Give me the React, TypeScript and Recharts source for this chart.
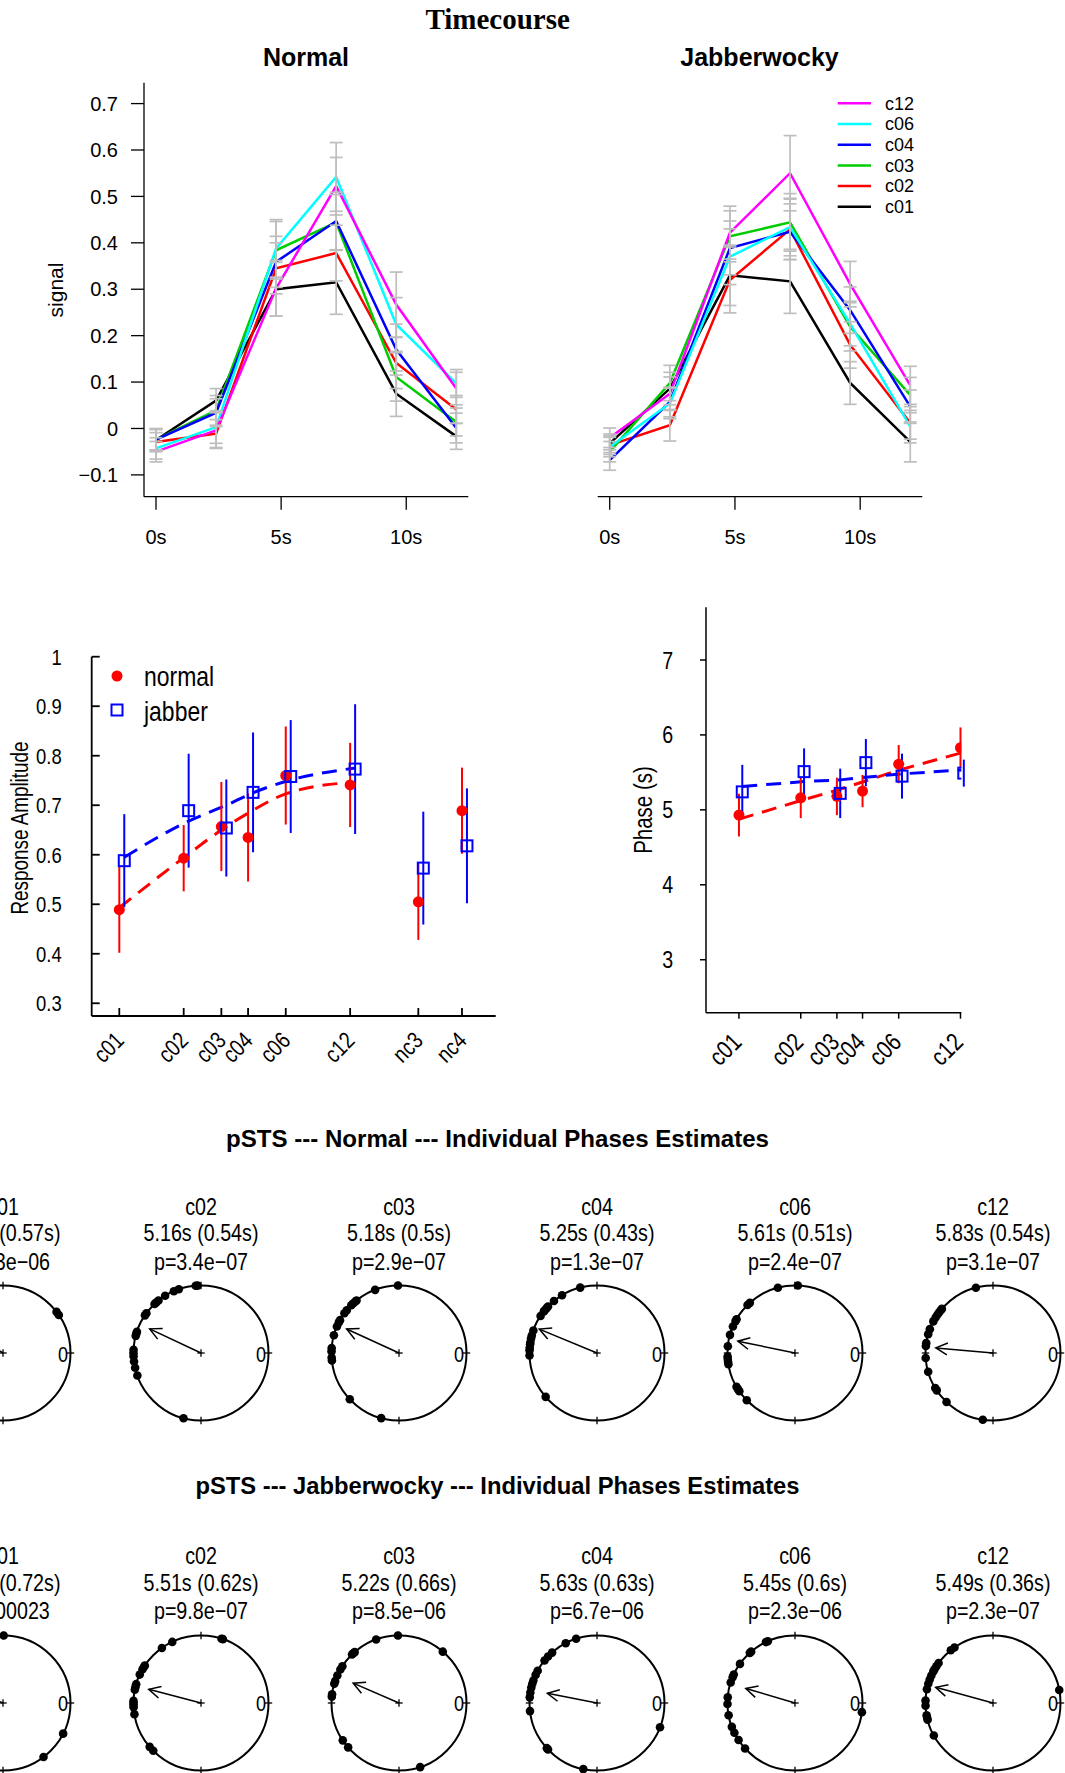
import React from 'react';
import {
  LineChart,
  Line,
  XAxis,
  YAxis,
  ErrorBar,
  ComposedChart,
  Scatter,
  ScatterChart,
  ReferenceDot,
  ReferenceLine,
} from 'recharts';

const SANS = "'Liberation Sans', Arial, Helvetica, sans-serif";
const SERIF = "'Liberation Serif', 'Times New Roman', serif";
// no narrow face installed: Liberation Sans squeezed horizontally stands in for Arial Narrow
const NARROW_X = 0.82;

// ---------- timecourse ----------
const TIMES = [0, 2.4, 4.8, 7.2, 9.6, 12];
const TIME_TICKS = [0, 5, 10];
const SIGNAL_TICKS = [-0.1, 0, 0.1, 0.2, 0.3, 0.4, 0.5, 0.6, 0.7];
const CONDITIONS = ['c01', 'c02', 'c03', 'c04', 'c06', 'c12'];
const CONDITION_COLORS = ['#000000', '#FF0000', '#00CD00', '#0000FF', '#00FFFF', '#FF00FF'];

const normalC01 = [-0.025, 0.06, 0.3, 0.315, 0.075, -0.017];
const normalC02 = [-0.029, -0.011, 0.345, 0.378, 0.141, 0.041];
const normalC03 = [-0.024, 0.039, 0.384, 0.444, 0.111, 0.014];
const normalC04 = [-0.024, 0.034, 0.359, 0.447, 0.17, 0.001];
const normalC06 = [-0.043, 0.003, 0.388, 0.542, 0.224, 0.097];
const normalC12 = [-0.05, -0.004, 0.302, 0.522, 0.267, 0.086];

const normalC01Err = [0.025, 0.026, 0.058, 0.069, 0.049, 0.028];
const normalC02Err = [0.02, 0.03, 0.055, 0.06, 0.055, 0.03];
const normalC03Err = [0.022, 0.032, 0.062, 0.06, 0.052, 0.03];
const normalC04Err = [0.022, 0.03, 0.055, 0.062, 0.055, 0.032];
const normalC06Err = [0.023, 0.035, 0.062, 0.074, 0.058, 0.03];
const normalC12Err = [0.022, 0.039, 0.06, 0.062, 0.07, 0.035];

const jabberC01 = [-0.032, 0.086, 0.33, 0.317, 0.098, -0.029];
const jabberC02 = [-0.036, 0.007, 0.32, 0.429, 0.18, 0.012];
const jabberC03 = [-0.05, 0.098, 0.414, 0.444, 0.219, 0.072];
const jabberC04 = [-0.068, 0.057, 0.389, 0.424, 0.255, 0.047];
const jabberC06 = [-0.04, 0.054, 0.37, 0.434, 0.226, 0.004];
const jabberC12 = [-0.02, 0.075, 0.422, 0.55, 0.311, 0.093];

const jabberC01Err = [0.02, 0.035, 0.065, 0.069, 0.046, 0.043];
const jabberC02Err = [0.02, 0.034, 0.071, 0.065, 0.05, 0.035];
const jabberC03Err = [0.022, 0.038, 0.055, 0.062, 0.052, 0.038];
const jabberC04Err = [0.022, 0.032, 0.058, 0.06, 0.05, 0.036];
const jabberC06Err = [0.021, 0.033, 0.06, 0.062, 0.048, 0.035];
const jabberC12Err = [0.021, 0.036, 0.057, 0.081, 0.049, 0.041];

// ---------- response amplitude ----------
const AMP_LEVELS = [1, 2, 3, 4, 6, 12, 25, 40];
const AMP_LABELS = ['c01', 'c02', 'c03', 'c04', 'c06', 'c12', 'nc3', 'nc4'];
const AMP_TICKS = [0.3, 0.4, 0.5, 0.6, 0.7, 0.8, 0.9, 1];
const ampNormal = [0.489, 0.593, 0.657, 0.635, 0.76, 0.741, 0.505, 0.689];
const ampNormalErr = [0.087, 0.067, 0.09, 0.089, 0.099, 0.085, 0.077, 0.087];
const ampJabber = [0.588, 0.689, 0.654, 0.726, 0.758, 0.773, 0.573, 0.618];
const ampJabberErr = [0.094, 0.115, 0.098, 0.121, 0.114, 0.131, 0.114, 0.116];
const ampFitNormal = [0.493, 0.594, 0.65, 0.684, 0.723, 0.746];
const ampFitJabber = [0.595, 0.668, 0.7, 0.725, 0.751, 0.775];

// ---------- phase ----------
const PHASE_LEVELS = [1, 2, 3, 4, 6, 12];
const PHASE_TICKS = [3, 4, 5, 6, 7];
const phaseNormalErr = [0.285, 0.27, 0.25, 0.215, 0.255, 0.27];
const phaseJabberErr = [0.36, 0.31, 0.33, 0.315, 0.3, 0.18];
const phaseFitNormal = [4.876, 5.124, 5.262, 5.372, 5.53, 5.757];
const phaseFitJabber = [5.311, 5.378, 5.4, 5.436, 5.48, 5.534];

// ---------- individual phases ----------
const PERIOD = 12;
const normalMeans = [4.93, 5.16, 5.18, 5.25, 5.61, 5.83];
const normalSDs = [0.57, 0.54, 0.5, 0.43, 0.51, 0.54];
const normalP = ['1.3e-06', '3.4e-07', '2.9e-07', '1.3e-07', '2.4e-07', '3.1e-07'];
const normalRho = [0.8, 0.84, 0.853, 0.926, 0.865, 0.85];
const jabberMeans = [5.24, 5.51, 5.22, 5.63, 5.45, 5.49];
const jabberSDs = [0.72, 0.62, 0.66, 0.63, 0.6, 0.36];
const jabberP = ['0.00023', '9.8e-07', '8.5e-06', '6.7e-06', '2.3e-06', '2.3e-07'];
const jabberRho = [0.7, 0.8, 0.74, 0.75, 0.76, 0.88];

const normalPhasesC01 = [1.14, 1.25, 3.6, 4.1, 4.4, 4.7, 4.9, 5.1, 5.3, 5.6, 5.9, 6.3, 6.8, 7.4];
const normalPhasesC02 = [3.1, 3.15, 3.64, 3.79, 4.07, 4.3, 4.39, 4.45, 4.8, 4.87, 5.39, 5.45, 5.51, 5.91, 6.0, 6.09, 6.24, 6.42, 6.65, 8.5];
const normalPhasesC03 = [3.03, 3.69, 4.3, 4.35, 4.43, 4.5, 4.69, 4.8, 5.03, 5.1, 5.23, 5.49, 5.86, 5.95, 6.13, 6.21, 7.44, 8.49];
const normalPhasesC04 = [3.48, 4.04, 4.32, 4.55, 4.61, 4.68, 4.73, 4.89, 5.35, 5.5, 5.59, 5.7, 5.75, 5.85, 5.92, 6.07, 7.35];
const normalPhasesC06 = [2.92, 3.49, 4.4, 4.49, 5.0, 5.06, 5.23, 5.48, 5.81, 6.1, 6.17, 6.25, 6.32, 7.0, 7.08, 7.15, 7.48];
const normalPhasesC12 = [3.49, 4.64, 4.7, 4.77, 4.85, 4.94, 5.07, 5.31, 5.46, 5.72, 5.8, 6.14, 6.54, 7.04, 7.12, 7.55, 8.71];

const jabberPhasesC01 = [2.98, 3.9, 4.4, 4.8, 5.1, 5.4, 5.7, 6.0, 6.4, 6.9, 7.6, 10.23, 11.1];
const jabberPhasesC02 = [2.37, 2.41, 3.84, 4.18, 4.88, 4.92, 5.0, 5.17, 5.46, 5.55, 5.62, 5.94, 6.0, 6.06, 6.12, 6.32, 7.35, 7.5];
const jabberPhasesC03 = [1.65, 3.03, 3.66, 4.37, 4.42, 4.47, 4.9, 5.01, 5.2, 5.37, 5.45, 5.75, 5.82, 7.12, 7.37, 9.61];
const jabberPhasesC04 = [3.6, 3.92, 4.39, 4.55, 4.7, 5.05, 5.18, 5.35, 5.45, 5.56, 5.7, 5.84, 6.23, 7.4, 7.45, 8.61, 11.3];
const jabberPhasesC06 = [3.79, 3.85, 4.35, 4.4, 4.82, 5.17, 5.25, 5.41, 5.84, 6.03, 6.35, 6.69, 6.87, 7.11, 7.41, 11.74];
const jabberPhasesC12 = [0.37, 4.16, 4.29, 4.79, 4.9, 5.0, 5.07, 5.2, 5.32, 5.45, 5.61, 5.93, 6.08, 6.35, 6.42, 6.48, 6.96];

// ---------- layout ----------
const JABBER_SHIFT_AMP = 1.055;
const JABBER_SHIFT_PHASE = 1.038;
const CIRCLE_X0 = 2.75;
const CIRCLE_STEP = 198;
const ROW1_Y = 1353.3;
const ROW2_Y = 1702.5;
const R_PX = 67.5;
const BOX = 200;
const D = BOX / 2 / R_PX;
const TICK = 3.7 / R_PX;
const ARROW_LEN = 13;
const ARROW_SPREAD = (27 * Math.PI) / 180;

const minus = (s: string) => s.replace(/-/g, '\u2212');
const fmtSignal = (v: number) => (v === 0 ? '0' : minus(v.toFixed(1)));

function timecourseRows(values: number[][], errors: number[][]) {
  return TIMES.map((t, i) => {
    const row: Record<string, number> = { t };
    CONDITIONS.forEach((c, k) => {
      row[c] = values[k][i];
      row[c + '_err'] = errors[k][i];
    });
    return row;
  });
}

const normalRows = timecourseRows(
  [normalC01, normalC02, normalC03, normalC04, normalC06, normalC12],
  [normalC01Err, normalC02Err, normalC03Err, normalC04Err, normalC06Err, normalC12Err]
);
const jabberRows = timecourseRows(
  [jabberC01, jabberC02, jabberC03, jabberC04, jabberC06, jabberC12],
  [jabberC01Err, jabberC02Err, jabberC03Err, jabberC04Err, jabberC06Err, jabberC12Err]
);

function Txt({ x, y, size, family = SANS, weight, rotate = 0, sx = 1, children }: any) {
  return (
    <div
      style={{
        position: 'absolute',
        left: x,
        top: y,
        transform: `translate(-50%, -50%) rotate(${rotate}deg) scaleX(${sx})`,
        fontSize: size,
        fontFamily: family,
        fontWeight: weight || 'normal',
        whiteSpace: 'nowrap',
        lineHeight: 1,
        color: '#000',
      }}
    >
      {children}
    </div>
  );
}

// svg text in the squeezed face
function NText({ x, y, size, anchor = 'start', rotate = 0, dy, children }: any) {
  return (
    <text
      transform={`translate(${x},${y}) rotate(${rotate}) scale(${NARROW_X},1)`}
      textAnchor={anchor}
      fontSize={size}
      fontFamily={SANS}
      fill="#000"
      dy={dy}
    >
      {children}
    </text>
  );
}

function Timecourse({ rows, left, width, marginLeft, marginRight, showY }: any) {
  const stroke = { stroke: '#000', strokeWidth: 1.3 };
  const tick = { fill: '#000', fontSize: 20, fontFamily: SANS };
  return (
    <div style={{ position: 'absolute', left, top: 0 }}>
      <LineChart
        width={width}
        height={570}
        data={rows}
        margin={{ top: 82.7, right: marginRight, bottom: 0, left: marginLeft }}
      >
        <XAxis
          dataKey="t"
          type="number"
          domain={[-0.48, 12.48]}
          allowDataOverflow
          ticks={TIME_TICKS}
          tickFormatter={(v: number) => `${v}s`}
          height={73.3}
          tickSize={13}
          tickMargin={20}
          axisLine={stroke}
          tickLine={stroke}
          tick={tick}
        />
        <YAxis
          type="number"
          domain={[-0.147, 0.745]}
          allowDataOverflow
          ticks={SIGNAL_TICKS}
          hide={!showY}
          width={144}
          tickSize={13}
          tickMargin={13}
          tickFormatter={fmtSignal}
          axisLine={stroke}
          tickLine={stroke}
          tick={tick}
        />
        {CONDITIONS.map((c, k) => (
          <Line
            key={c}
            dataKey={c}
            type="linear"
            stroke={CONDITION_COLORS[k]}
            strokeWidth={2.5}
            dot={false}
            isAnimationActive={false}
          />
        ))}
        {CONDITIONS.map((c) => (
          <Line key={c + '_e'} dataKey={c} stroke="none" dot={false} isAnimationActive={false}>
            <ErrorBar dataKey={c + '_err'} width={6.5} stroke="#BEBEBE" strokeWidth={1.7} direction="y" />
          </Line>
        ))}
      </LineChart>
    </div>
  );
}

function rotatedTick(levels: number[], labels: string[], dx: number, dy: number, size: number) {
  return (props: any) => {
    const { x, y, payload } = props;
    return (
      <NText x={x + dx} y={y + dy} rotate={-45} anchor="end" size={size}>
        {labels[levels.indexOf(payload.value)]}
      </NText>
    );
  };
}

function valueTick(fmt: (v: number) => string, size: number) {
  return (props: any) => (
    <NText x={props.x} y={props.y} anchor="end" size={size} dy="0.355em">
      {fmt(props.payload.value)}
    </NText>
  );
}

const redDot = (p: any) => <circle cx={p.cx} cy={p.cy} r={5.5} fill="#FF0000" />;
const blueSquare = (p: any) => (
  <rect x={p.cx - 5.5} y={p.cy - 5.5} width={11} height={11} fill="none" stroke="#0000FF" strokeWidth={2} />
);

function AmplitudePanel() {
  const normalPts = AMP_LEVELS.map((x, i) => ({ x, y: ampNormal[i], e: ampNormalErr[i] }));
  const jabberPts = AMP_LEVELS.map((x, i) => ({ x: x * JABBER_SHIFT_AMP, y: ampJabber[i], e: ampJabberErr[i] }));
  const fitN = ampFitNormal.map((y, i) => ({ x: AMP_LEVELS[i], y }));
  const fitJ = ampFitJabber.map((y, i) => ({ x: AMP_LEVELS[i] * JABBER_SHIFT_AMP, y }));
  const stroke = { stroke: '#000', strokeWidth: 1.8 };
  return (
    <div style={{ position: 'absolute', left: 0, top: 620 }}>
      <ComposedChart width={510} height={470} margin={{ top: 36.7, right: 14.3, bottom: 4, left: 0 }}>
        <XAxis
          dataKey="x"
          type="number"
          scale="log"
          domain={[0.743, 57.5]}
          allowDataOverflow
          ticks={AMP_LEVELS}
          interval={0}
          height={70}
          tickSize={-8}
          tickMargin={8}
          axisLine={stroke}
          tickLine={stroke}
          tick={rotatedTick(AMP_LEVELS, AMP_LABELS, 6, 26, 23.5)}
        />
        <YAxis
          dataKey="y"
          type="number"
          domain={[0.2743, 1]}
          allowDataOverflow
          ticks={AMP_TICKS}
          interval={0}
          width={91.7}
          tickSize={-8}
          tickMargin={38}
          axisLine={stroke}
          tickLine={stroke}
          tick={valueTick((v) => (v === 1 ? '1' : v.toFixed(1)), 22.5)}
        />
        <Line data={fitN} dataKey="y" type="monotone" stroke="#FF0000" strokeWidth={3} strokeDasharray="15 9" dot={false} isAnimationActive={false} />
        <Line data={fitJ} dataKey="y" type="monotone" stroke="#0000FF" strokeWidth={3} strokeDasharray="15 9" dot={false} isAnimationActive={false} />
        <Scatter data={normalPts} dataKey="y" shape={redDot} isAnimationActive={false}>
          <ErrorBar dataKey="e" width={0} stroke="#FF0000" strokeWidth={2} direction="y" />
        </Scatter>
        <Scatter data={jabberPts} dataKey="y" shape={blueSquare} isAnimationActive={false}>
          <ErrorBar dataKey="e" width={0} stroke="#0000FF" strokeWidth={2} direction="y" />
        </Scatter>
      </ComposedChart>
    </div>
  );
}

function PhasePanel() {
  const normalPts = PHASE_LEVELS.map((x, i) => ({ x, y: normalMeans[i], e: phaseNormalErr[i] }));
  const jabberPts = PHASE_LEVELS.map((x, i) => ({ x: x * JABBER_SHIFT_PHASE, y: jabberMeans[i], e: phaseJabberErr[i] }));
  const fitN = phaseFitNormal.map((y, i) => ({ x: PHASE_LEVELS[i], y }));
  const fitJ = phaseFitJabber.map((y, i) => ({ x: PHASE_LEVELS[i] * JABBER_SHIFT_PHASE, y }));
  const stroke = { stroke: '#000', strokeWidth: 1.5 };
  return (
    <div style={{ position: 'absolute', left: 620, top: 590 }}>
      <ComposedChart width={360} height={495} margin={{ top: 17.3, right: 18.7, bottom: 2.3, left: 0 }}>
        <XAxis
          dataKey="x"
          type="number"
          scale="log"
          domain={[0.691, 12.11]}
          allowDataOverflow
          ticks={PHASE_LEVELS}
          interval={0}
          height={70}
          tickSize={6}
          tickMargin={0}
          axisLine={stroke}
          tickLine={stroke}
          tick={rotatedTick(PHASE_LEVELS, CONDITIONS, 4, 25, 25)}
        />
        <YAxis
          dataKey="y"
          type="number"
          domain={[2.293, 7.703]}
          allowDataOverflow
          ticks={PHASE_TICKS}
          interval={0}
          width={86}
          tickSize={6}
          tickMargin={26.7}
          axisLine={stroke}
          tickLine={stroke}
          tick={valueTick((v) => String(v), 24)}
        />
        <Line data={fitN} dataKey="y" type="linear" stroke="#FF0000" strokeWidth={3} strokeDasharray="15 9" dot={false} isAnimationActive={false} />
        <Line data={fitJ} dataKey="y" type="linear" stroke="#0000FF" strokeWidth={3} strokeDasharray="15 9" dot={false} isAnimationActive={false} />
        <Scatter data={normalPts} dataKey="y" shape={redDot} isAnimationActive={false}>
          <ErrorBar dataKey="e" width={0} stroke="#FF0000" strokeWidth={2} direction="y" />
        </Scatter>
        <Scatter data={jabberPts} dataKey="y" shape={blueSquare} isAnimationActive={false}>
          <ErrorBar dataKey="e" width={0} stroke="#0000FF" strokeWidth={2} direction="y" />
        </Scatter>
      </ComposedChart>
    </div>
  );
}

function polar(phase: number, r: number) {
  const a = (phase / PERIOD) * 2 * Math.PI;
  return { x: r * Math.cos(a), y: r * Math.sin(a) };
}

const blackDot = (p: any) => <circle cx={p.cx} cy={p.cy} r={4.3} fill="#000" />;

function arrowHead(mean: number) {
  const a = (mean / PERIOD) * 2 * Math.PI;
  return (p: any) => {
    if (!p.payload || !p.payload.tip) return <g />;
    const bx = -Math.cos(a);
    const by = Math.sin(a);
    const legs = [ARROW_SPREAD, -ARROW_SPREAD].map((s) => ({
      x: p.cx + ARROW_LEN * (bx * Math.cos(s) - by * Math.sin(s)),
      y: p.cy + ARROW_LEN * (bx * Math.sin(s) + by * Math.cos(s)),
    }));
    return (
      <path
        d={`M${legs[0].x},${legs[0].y}L${p.cx},${p.cy}L${legs[1].x},${legs[1].y}`}
        fill="none"
        stroke="#000"
        strokeWidth={1.5}
      />
    );
  };
}

const CIRCLE_TICKS = [
  [{ x: 1 - TICK, y: 0 }, { x: 1 + TICK, y: 0 }],
  [{ x: 0, y: 1 - TICK }, { x: 0, y: 1 + TICK }],
  [{ x: -1 - TICK, y: 0 }, { x: -1 + TICK, y: 0 }],
  [{ x: 0, y: -1 - TICK }, { x: 0, y: -1 + TICK }],
  [{ x: -TICK, y: 0 }, { x: TICK, y: 0 }],
  [{ x: 0, y: -TICK }, { x: 0, y: TICK }],
];

function CirclePlot({ cx, cy, name, mean, sd, p, rho, phases }: any) {
  const dots = phases.map((ph: number) => polar(ph, 1));
  const arrow = [
    { x: 0, y: 0, tip: false },
    { ...polar(mean, rho), tip: true },
  ];
  return (
    <>
      <Txt x={cx} y={cy - 146.6} size={24} sx={NARROW_X}>{name}</Txt>
      <Txt x={cx} y={cy - 120} size={24} sx={NARROW_X}>{`${mean}s (${sd}s)`}</Txt>
      <Txt x={cx} y={cy - 91.6} size={24} sx={NARROW_X}>{`p=${minus(p)}`}</Txt>
      <div style={{ position: 'absolute', left: cx - BOX / 2, top: cy - BOX / 2 }}>
        <ScatterChart width={BOX} height={BOX} margin={{ top: 0, right: 0, bottom: 0, left: 0 }}>
          <XAxis dataKey="x" type="number" domain={[-D, D]} allowDataOverflow hide />
          <YAxis dataKey="y" type="number" domain={[-D, D]} allowDataOverflow hide />
          <ReferenceDot x={0} y={0} r={R_PX} fill="none" stroke="#000" strokeWidth={2} />
          {CIRCLE_TICKS.map((seg, i) => (
            <ReferenceLine key={i} segment={seg} stroke="#000" strokeWidth={1.3} />
          ))}
          <Scatter data={dots} shape={blackDot} isAnimationActive={false} />
          <Scatter
            data={arrow}
            shape={arrowHead(mean)}
            line={{ stroke: '#000', strokeWidth: 1.5 }}
            lineType="joint"
            isAnimationActive={false}
          />
        </ScatterChart>
      </div>
      <Txt x={cx + 60.5} y={cy + 1.5} size={22} sx={NARROW_X}>0</Txt>
    </>
  );
}

function CircleRow({ y, means, sds, ps, rhos, phases }: any) {
  return (
    <>
      {CONDITIONS.map((c, i) => (
        <CirclePlot
          key={c}
          cx={CIRCLE_X0 + i * CIRCLE_STEP}
          cy={y}
          name={c}
          mean={means[i]}
          sd={sds[i]}
          p={ps[i]}
          rho={rhos[i]}
          phases={phases[i]}
        />
      ))}
    </>
  );
}

function Title({ y, width, children }: any) {
  return (
    <svg style={{ position: 'absolute', left: 0, top: y - 30 }} width={1065} height={50}>
      <text
        x={497.5}
        y={30}
        textAnchor="middle"
        textLength={width}
        lengthAdjust="spacingAndGlyphs"
        fontFamily={SANS}
        fontWeight="bold"
        fontSize={23}
        fill="#000"
      >
        {children}
      </text>
    </svg>
  );
}

export default function App() {
  const legendOrder = [...CONDITIONS].reverse();
  return (
    <div
      style={{
        position: 'absolute',
        left: 0,
        top: 0,
        width: 1065,
        height: 1773,
        overflow: 'hidden',
        background: '#fff',
      }}
    >
      <Txt x={497.7} y={18.7} size={29} family={SERIF} weight="bold">Timecourse</Txt>
      <Txt x={306} y={57.2} size={25} weight="bold">Normal</Txt>
      <Txt x={759.5} y={57.2} size={25} weight="bold">Jabberwocky</Txt>
      <Txt x={55} y={289.5} size={21} rotate={-90}>signal</Txt>

      <Timecourse rows={normalRows} left={0} width={480} marginLeft={0} marginRight={11.7} showY />
      <Timecourse rows={jabberRows} left={450} width={490} marginLeft={147.7} marginRight={17.7} showY={false} />

      <svg style={{ position: 'absolute', left: 0, top: 0 }} width={1065} height={230}>
        {legendOrder.map((c, i) => {
          const y = 103.3 + i * 20.7;
          return (
            <g key={c}>
              <line x1={837.7} x2={871} y1={y} y2={y} stroke={CONDITION_COLORS[CONDITIONS.indexOf(c)]} strokeWidth={2.5} />
              <text x={885} y={y} dy="0.35em" fontSize={18} fontFamily={SANS} fill="#000">{c}</text>
            </g>
          );
        })}
      </svg>

      <AmplitudePanel />
      <Txt x={20} y={828.3} size={23} sx={NARROW_X} rotate={-90}>Response Amplitude</Txt>
      <svg style={{ position: 'absolute', left: 0, top: 0 }} width={300} height={760}>
        <circle cx={117} cy={676} r={5.5} fill="#FF0000" />
        <NText x={144} y={686} size={28}>normal</NText>
        <rect x={111.5} y={704.5} width={11} height={11} fill="none" stroke="#0000FF" strokeWidth={2} />
        <NText x={144} y={720.7} size={28}>jabber</NText>
      </svg>

      <PhasePanel />
      <Txt x={643.3} y={810} size={25} sx={NARROW_X} rotate={-90}>Phase (s)</Txt>

      <Title y={1146.7} width={543}>pSTS --- Normal --- Individual Phases Estimates</Title>
      <CircleRow
        y={ROW1_Y}
        means={normalMeans}
        sds={normalSDs}
        ps={normalP}
        rhos={normalRho}
        phases={[normalPhasesC01, normalPhasesC02, normalPhasesC03, normalPhasesC04, normalPhasesC06, normalPhasesC12]}
      />
      <Title y={1494} width={604}>pSTS --- Jabberwocky --- Individual Phases Estimates</Title>
      <CircleRow
        y={ROW2_Y}
        means={jabberMeans}
        sds={jabberSDs}
        ps={jabberP}
        rhos={jabberRho}
        phases={[jabberPhasesC01, jabberPhasesC02, jabberPhasesC03, jabberPhasesC04, jabberPhasesC06, jabberPhasesC12]}
      />
    </div>
  );
}
